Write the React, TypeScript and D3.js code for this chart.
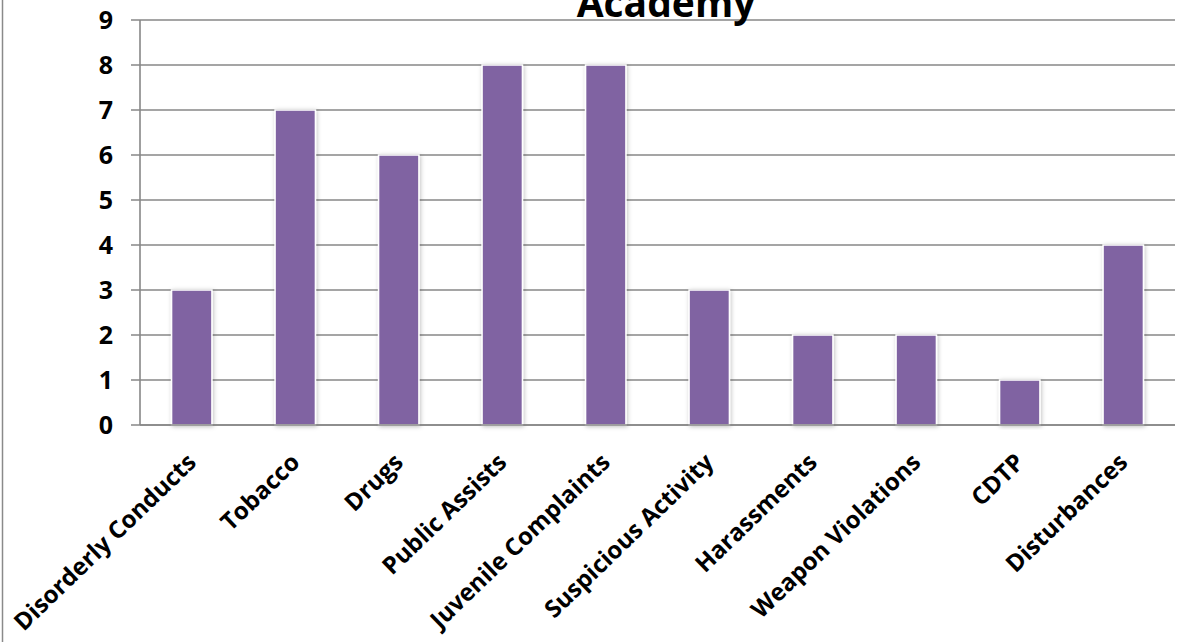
import * as d3 from "d3";

const categories = [
  "Disorderly Conducts",
  "Tobacco",
  "Drugs",
  "Public Assists",
  "Juvenile Complaints",
  "Suspicious Activity",
  "Harassments",
  "Weapon Violations",
  "CDTP",
  "Disturbances",
];
const counts = [3, 7, 6, 8, 8, 3, 2, 2, 1, 4];
const yTicks = [0, 1, 2, 3, 4, 5, 6, 7, 8, 9];

export default function App() {
  const width = 1204;
  const height = 642;
  const plot = { left: 140, right: 1175, top: 20, bottom: 425 };

  const xScale = d3
    .scaleBand()
    .domain(categories)
    .range([plot.left, plot.right])
    .paddingInner(0.61)
    .paddingOuter(0.305);

  const yScale = d3.scaleLinear().domain([0, 9]).range([plot.bottom, plot.top]);

  const font = "'Open Sans', sans-serif";

  return (
    <div style={{ position: "fixed", left: 0, top: 0 }}>
      <svg width={width} height={height} style={{ display: "block" }}>
        <defs>
          <filter id="shadow" x="-30%" y="-10%" width="160%" height="120%">
            <feDropShadow dx="1" dy="1" stdDeviation="2" floodColor="#000" floodOpacity="0.25" />
          </filter>
        </defs>
        <rect x={0} y={0} width={width} height={height} fill="white" />
        <line x1={2.5} x2={2.5} y1={0} y2={height} stroke="#8a8a8a" strokeWidth={1.5} />

        {/* gridlines + y ticks */}
        {yTicks.map((t) => (
          <g key={t}>
            <line
              x1={plot.left - 9}
              x2={plot.right}
              y1={yScale(t)}
              y2={yScale(t)}
              stroke="#878787"
              strokeWidth={1.6}
            />
            <text
              x={113}
              y={yScale(t)}
              dy="0.36em"
              textAnchor="end"
              fontFamily={font}
              fontWeight="bold"
              fontSize={25}
              fill="#000"
            >
              {t}
            </text>
          </g>
        ))}
        <line x1={plot.left} x2={plot.left} y1={plot.top} y2={plot.bottom} stroke="#878787" strokeWidth={1.6} />

        {/* bars */}
        {categories.map((c, i) => (
          <rect
            key={c}
            x={xScale(c)}
            y={yScale(counts[i])}
            width={xScale.bandwidth()}
            height={yScale(0) - yScale(counts[i])}
            fill="#8064A2"
            stroke="#fff"
            strokeWidth={1.5}
            filter="url(#shadow)"
          />
        ))}
        <line x1={plot.left} x2={plot.right} y1={plot.bottom} y2={plot.bottom} stroke="#878787" strokeWidth={1.6} />

        {/* category labels */}
        {categories.map((c) => {
          const cx = (xScale(c) ?? 0) + xScale.bandwidth() / 2;
          const cy = 458;
          return (
            <text
              key={c}
              transform={`translate(${cx},${cy}) rotate(-44)`}
              textAnchor="end"
              dy="0.35em"
              fontFamily={font}
              fontWeight="bold"
              fontSize={24}
              fill="#000"
            >
              {c}
            </text>
          );
        })}

        <text
          x={666}
          y={17}
          textAnchor="middle"
          fontFamily={font}
          fontWeight="bold"
          fontSize={39}
          fill="#000"
        >
          Academy
        </text>
      </svg>
    </div>
  );
}
